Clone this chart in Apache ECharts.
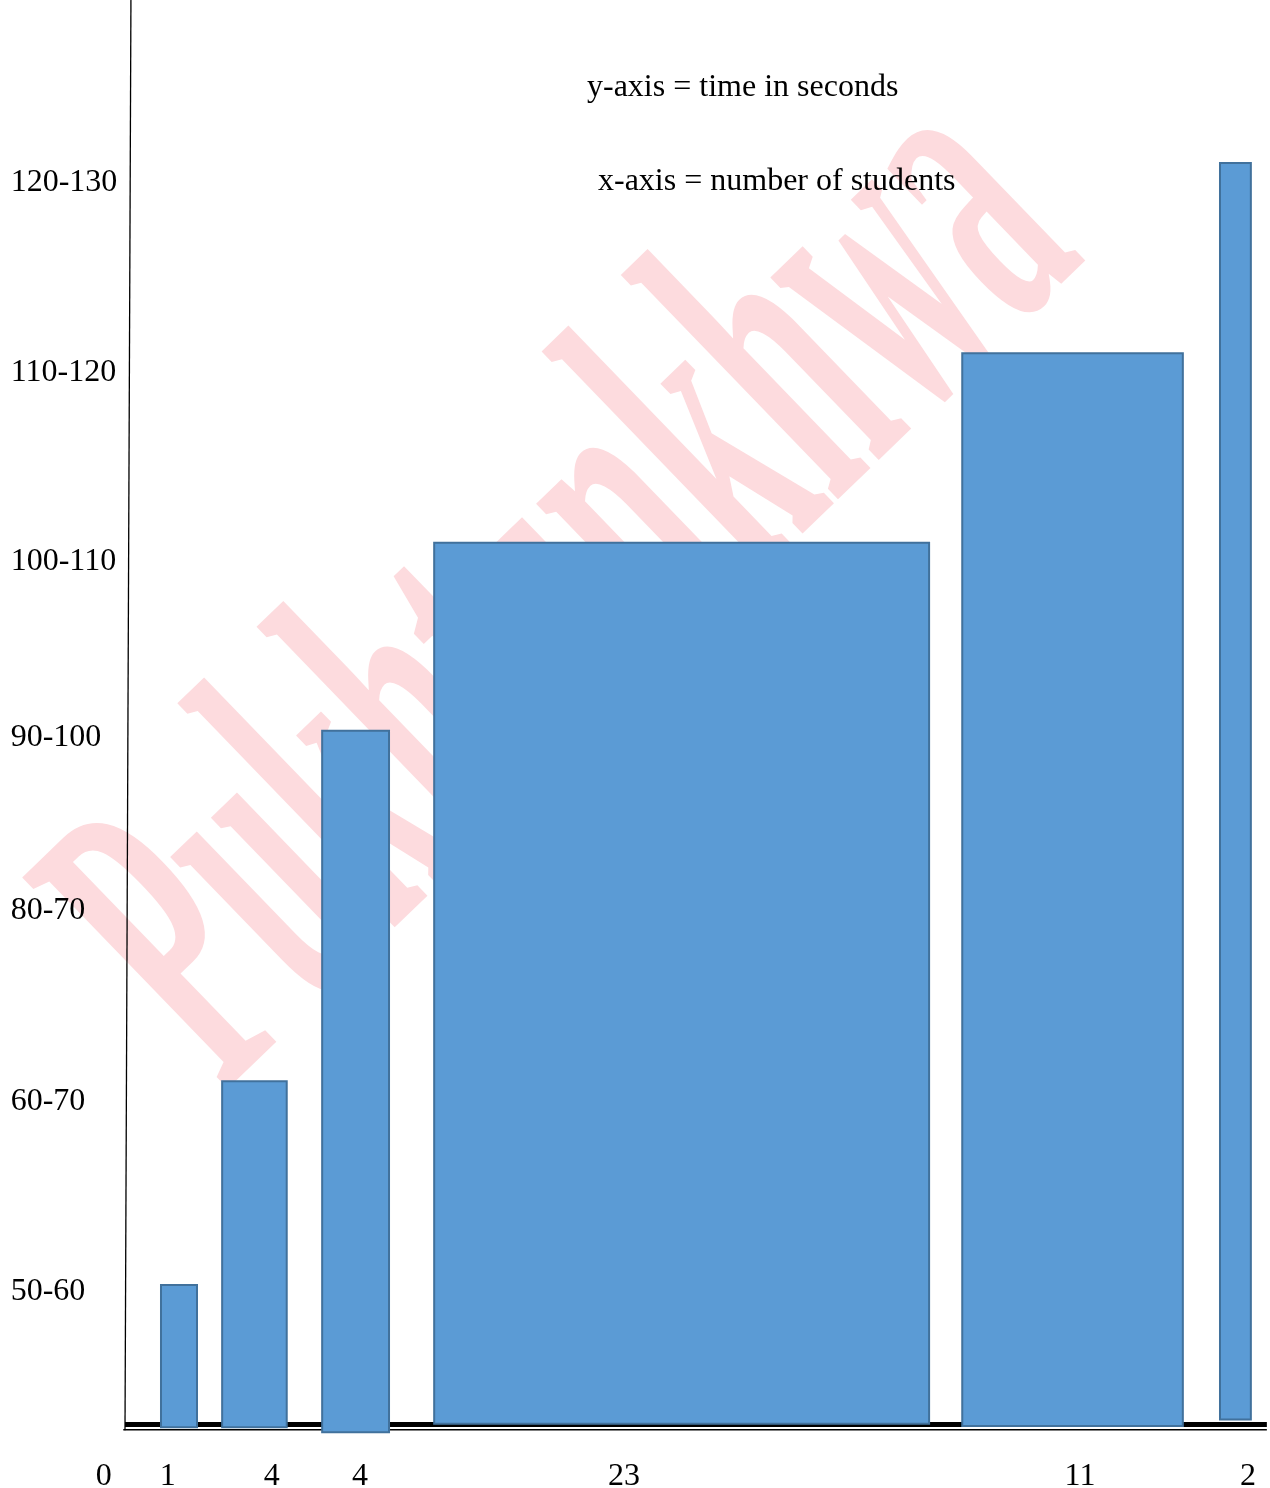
<!DOCTYPE html>
<html>
<head>
<meta charset="utf-8">
<script src="https://cdn.jsdelivr.net/npm/echarts@6/dist/echarts.min.js"></script>
<style>
html, body { margin: 0; padding: 0; background: #fff; }
#chart { width: 1270px; height: 1488px; }
</style>
</head>
<body>
<div id="chart"></div>
<script>
// time classes on the y axis and the height (0 = baseline, 100 = top) where each is written
var classLabels = ['50-60', '60-70', '80-70', '90-100', '100-110', '110-120', '120-130'];
var classLevels = [9.35, 22.7, 36.05, 48.25, 60.6, 73.85, 87.15];

// number of students written under the axis, and where (0 = y axis, 100 = right end)
var countLabels = ['0', '1', '4', '4', '23', '11', '2'];
var countPos = [-1.85, 3.75, 12.85, 20.55, 43.65, 83.55, 98.25];

// the bars as drawn: left edge, right edge, top, bottom
var barLeft = [3.15, 8.5, 17.25, 27.05, 73.25, 95.8];
var barRight = [6.3, 14.15, 23.1, 70.35, 92.55, 98.5];
var barTop = [9.8, 24.1, 48.7, 61.9, 75.2, 88.55];
var barBase = [-0.2, -0.2, -0.55, 0.05, -0.1, 0.35];

var bars = barLeft.map(function (l, i) {
    return [l, barRight[i], barTop[i], barBase[i]];
});

// hand drawn axis lines: y axis (a little slanted), thick base line, thin line under it
var rules = [
    [0.52, 100, 0, -0.4],
    [0, 0, 99.9, 0],
    [-0.15, -0.36, 99.9, -0.36]
];
var ruleWidth = [1.3, 5, 1.5];

var serif = '"Liberation Serif", "Times New Roman", serif';

function pickLabel(values, labels) {
    return function (v) {
        for (var i = 0; i < values.length; i++) {
            if (Math.abs(values[i] - v) < 1e-6) return labels[i];
        }
        return '';
    };
}

var chart = echarts.init(document.getElementById('chart'));
var option = {
    backgroundColor: '#fff',
    animation: false,
    grid: { left: 90.7, right: 2, top: 0, bottom: 63.5, containLabel: false, outerBoundsMode: 'none' },
    xAxis: {
        type: 'value', min: -3, max: 100,
        axisLine: { show: false }, axisTick: { show: false }, splitLine: { show: false },
        axisLabel: {
            customValues: countPos,
            formatter: pickLabel(countPos, countLabels),
            margin: 36, color: '#000', fontFamily: serif, fontSize: 32
        }
    },
    yAxis: {
        type: 'value', min: 0, max: 100,
        axisLine: { show: false }, axisTick: { show: false }, splitLine: { show: false },
        axisLabel: {
            customValues: classLevels,
            formatter: pickLabel(classLevels, classLabels),
            align: 'left', margin: 80, color: '#000', fontFamily: serif, fontSize: 32
        }
    },
    graphic: [
        {
            // watermark of the source page
            type: 'text', z: 0, silent: true,
            x: 300, y: 1170, rotation: 44 * Math.PI / 180, scaleX: 0.44, scaleY: 1,
            style: {
                text: 'Pukhtunkhwa', font: 'bold 450px ' + serif,
                fill: '#FDDBDE', textAlign: 'left', textVerticalAlign: 'bottom'
            }
        },
        {
            type: 'text', z: 10, x: 587, y: 88,
            style: { text: 'y-axis = time in seconds', font: '32px ' + serif, fill: '#000', textVerticalAlign: 'middle' }
        },
        {
            type: 'text', z: 10, x: 598, y: 182,
            style: { text: 'x-axis = number of students', font: '32px ' + serif, fill: '#000', textVerticalAlign: 'middle' }
        }
    ],
    series: [
        {
            type: 'custom', z: 3, silent: true,
            data: rules,
            renderItem: function (params, api) {
                var a = api.coord([api.value(0), api.value(1)]);
                var b = api.coord([api.value(2), api.value(3)]);
                return {
                    type: 'line',
                    shape: { x1: a[0], y1: a[1], x2: b[0], y2: b[1] },
                    style: { stroke: '#000', lineWidth: ruleWidth[params.dataIndex] }
                };
            }
        },
        {
            type: 'custom', z: 4,
            data: bars,
            renderItem: function (params, api) {
                var p1 = api.coord([api.value(0), api.value(2)]);
                var p2 = api.coord([api.value(1), api.value(3)]);
                return {
                    type: 'rect',
                    shape: { x: p1[0], y: p1[1], width: p2[0] - p1[0], height: p2[1] - p1[1] },
                    style: { fill: '#5B9BD5', stroke: '#41719C', lineWidth: 2 }
                };
            }
        }
    ]
};
chart.setOption(option);
window.onresize = chart.resize;
</script>
</body>
</html>
